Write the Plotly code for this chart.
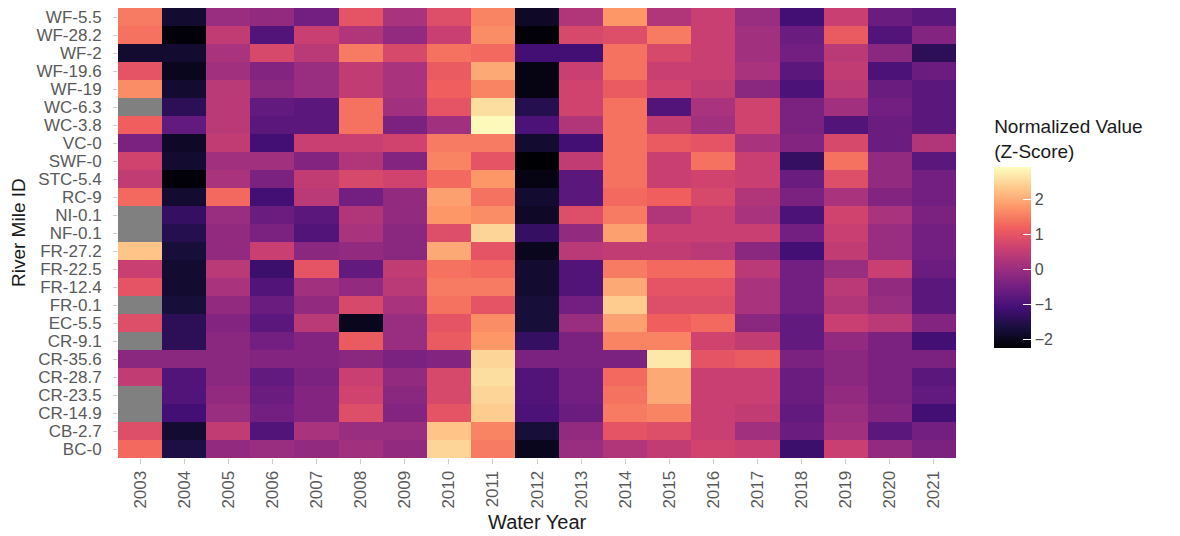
import plotly.graph_objects as go

years = [str(y) for y in range(2003, 2022)]

sites = ["WF-5.5", "WF-28.2", "WF-2", "WF-19.6", "WF-19", "WC-6.3", "WC-3.8", "VC-0",
         "SWF-0", "STC-5.4", "RC-9", "NI-0.1", "NF-0.1", "FR-27.2", "FR-22.5", "FR-12.4",
         "FR-0.1", "EC-5.5", "CR-9.1", "CR-35.6", "CR-28.7", "CR-23.5", "CR-14.9", "CB-2.7", "BC-0"]

N = None
# one list per water year, values listed top-to-bottom in the order of `sites`
y2003 = [1.5, 1.4, -1.8, 1.0, 1.7, N, 1.2, -0.4, 0.7, 0.5, 1.3, N, N, 2.3, 0.6, 1.0, N, 0.9, N, -0.2, 0.5, N, N, 0.9, 1.3]
y2004 = [-1.8, -2.2, -1.8, -2.0, -1.8, -1.4, -0.7, -1.9, -1.8, -2.2, -1.8, -1.3, -1.5, -1.7, -1.8, -1.8, -1.7, -1.4, -1.4, -0.2, -0.9, -0.9, -1.1, -1.8, -1.6]
y2005 = [0.0, 0.5, 0.2, 0.1, 0.4, 0.4, 0.4, 0.5, 0.1, 0.2, 1.3, 0.0, -0.1, -0.1, 0.4, 0.2, -0.1, -0.3, -0.2, -0.2, -0.2, -0.1, 0.0, 0.5, -0.1]
y2006 = [-0.1, -0.9, 0.8, -0.3, -0.2, -0.7, -0.8, -1.1, 0.1, -0.4, -1.1, -0.6, -0.4, 0.6, -1.2, -0.9, -0.6, -0.8, -0.5, -0.3, -0.7, -0.6, -0.5, -0.9, 0.0]
y2007 = [-0.5, 0.6, 0.4, 0.0, 0.0, -0.8, -0.8, 0.6, -0.3, 0.5, 0.4, -0.8, -0.9, -0.2, 1.0, 0.1, -0.1, 0.4, -0.3, -0.3, -0.4, -0.3, -0.3, 0.2, -0.1]
y2008 = [1.0, 0.3, 1.5, 0.5, 0.5, 1.4, 1.4, 0.6, 0.3, 0.8, -0.5, 0.3, 0.2, -0.1, -0.7, -0.1, 0.8, -2.0, 1.1, -0.2, 0.6, 0.7, 0.9, 0.0, 0.1]
y2009 = [0.2, -0.1, 0.8, 0.2, 0.2, 0.1, -0.4, 0.7, -0.3, 0.7, -0.1, -0.1, -0.2, -0.2, 0.5, 0.4, 0.2, 0.0, 0.0, -0.4, -0.1, -0.2, -0.3, 0.0, -0.1]
y2010 = [0.9, 0.6, 1.4, 1.1, 1.2, 1.0, 0.1, 1.5, 1.6, 1.3, 1.9, 1.8, 0.9, 2.0, 1.4, 1.5, 1.4, 1.0, 1.1, -0.3, 0.8, 0.8, 1.0, 2.3, 2.5]
y2011 = [1.6, 1.7, 1.3, 2.0, 1.6, 2.6, 2.9, 1.5, 1.0, 1.8, 1.4, 1.7, 2.5, 1.0, 1.3, 1.5, 1.0, 1.7, 1.8, 2.5, 2.6, 2.5, 2.4, 1.6, 1.5]
y2012 = [-1.9, -2.2, -1.1, -2.1, -2.1, -1.5, -1.0, -1.8, -2.3, -2.1, -1.8, -1.9, -1.3, -2.0, -1.8, -1.8, -1.7, -1.7, -1.3, -0.4, -0.9, -0.9, -1.0, -1.7, -2.0]
y2013 = [0.3, 0.8, -1.1, 0.6, 0.7, 0.7, 0.3, -1.1, 0.5, -0.8, -0.8, 0.9, -0.1, 0.4, -0.9, -0.9, -0.5, 0.0, -0.4, -0.4, -0.5, -0.5, -0.6, -0.1, 0.0]
y2014 = [1.8, 0.9, 1.4, 1.4, 1.1, 1.4, 1.4, 1.4, 1.4, 1.4, 1.3, 1.5, 1.9, 0.5, 1.5, 2.0, 2.4, 1.9, 1.6, -0.4, 1.3, 1.4, 1.5, 1.0, 0.3]
y2015 = [0.3, 1.5, 0.8, 0.6, 0.7, -0.9, 0.5, 1.1, 0.6, 0.6, 1.2, 0.3, 0.6, 0.5, 1.3, 1.0, 0.9, 1.2, 1.6, 2.7, 2.0, 2.0, 1.6, 0.9, 0.5]
y2016 = [0.6, 0.6, 0.6, 0.6, 0.5, 0.2, 0.1, 1.0, 1.4, 0.7, 0.8, 0.6, 0.6, 0.4, 1.3, 1.0, 0.9, 1.3, 0.7, 1.0, 0.6, 0.6, 0.6, 0.6, 0.7]
y2017 = [0.0, 0.1, 0.1, 0.2, -0.2, 0.7, 0.7, 0.2, 0.6, 0.6, 0.3, 0.2, 0.6, -0.2, 0.4, 0.2, 0.2, -0.2, 0.5, 1.1, 0.6, 0.6, 0.5, 0.1, 0.6]
y2018 = [-1.1, -0.6, -0.5, -0.8, -1.0, -0.4, -0.4, -0.3, -1.3, -0.6, -0.4, -1.0, -0.5, -1.1, -0.5, -0.5, -0.5, -0.7, -0.7, -0.4, -0.6, -0.6, -0.7, -0.6, -1.2]
y2019 = [0.6, 1.1, 0.4, 0.5, 0.4, 0.1, -0.9, 0.8, 1.4, 0.9, 0.2, 0.7, 0.6, 0.5, 0.0, 0.4, 0.3, 0.6, -0.1, -0.2, -0.2, -0.1, 0.0, 0.1, 0.6]
y2020 = [-0.6, -0.9, -0.2, -1.0, -0.6, -0.5, -0.6, -0.6, -0.1, -0.1, -0.3, 0.2, 0.0, 0.0, 0.6, -0.1, 0.0, 0.4, -0.4, -0.4, -0.4, -0.4, -0.3, -0.8, -0.1]
y2021 = [-0.8, -0.3, -1.4, -0.6, -0.8, -0.8, -0.8, 0.3, -0.8, -0.5, -0.5, -0.4, -0.5, -0.5, -0.6, -0.8, -0.8, -0.3, -1.1, -0.4, -0.8, -0.7, -1.1, -0.5, -0.4]

columns = [y2003, y2004, y2005, y2006, y2007, y2008, y2009, y2010, y2011, y2012,
           y2013, y2014, y2015, y2016, y2017, y2018, y2019, y2020, y2021]

# build z matrix: rows = sites, cols = years
z = [[columns[j][i] for j in range(len(years))] for i in range(len(sites))]

FONT = "Liberation Sans, Arial"

fig = go.Figure(go.Heatmap(
    z=z, x=years, y=sites,
    colorscale="Magma", zmin=-2.25, zmax=2.95,
    colorbar=dict(
        title=dict(text="Normalized Value<br>(Z-Score)", side="top",
                   font=dict(size=19, color="#1a1a1a", family=FONT)),
        thickness=37, lenmode="pixels", len=232,
        x=1.0455, xanchor="left", xpad=0,
        y=0.2444, yanchor="bottom", ypad=0,
        tickvals=[-2, -1, 0, 1, 2], ticks="inside", ticklen=8, tickcolor="white",
        tickfont=dict(size=16, color="#4d4d4d", family=FONT), outlinewidth=0,
    ),
    hoverongaps=False,
))

# page has an 8px body margin, so the figure is sized to fit inside the window
fig.update_layout(
    width=1172, height=528,
    margin=dict(l=110, r=224, t=0, b=78),
    paper_bgcolor="white", plot_bgcolor="#808080",
    font=dict(family=FONT, color="#4d4d4d"),
    xaxis=dict(automargin=False, tickmode="array", tickvals=years,
               tickangle=-90, tickfont=dict(size=17, color="#5a5a5a"),
               showgrid=False, zeroline=False, ticks="outside", ticklen=5, tickcolor="#cccccc"),
    yaxis=dict(automargin=False, autorange="reversed", tickmode="array", tickvals=sites,
               tickfont=dict(size=17, color="#5a5a5a"),
               showgrid=False, zeroline=False, ticks="outside", ticklen=4, tickcolor="#cccccc",
               ticklabelstandoff=8),
    annotations=[
        dict(text="Water Year", xref="paper", yref="paper", x=0.5, y=0.0, yshift=-64,
             xanchor="center", yanchor="middle", showarrow=False,
             font=dict(size=20, color="#1a1a1a", family=FONT)),
        dict(text="River Mile ID", xref="paper", yref="paper", x=0, xshift=-100, y=0.5,
             xanchor="center", yanchor="middle", textangle=-90, showarrow=False,
             font=dict(size=19, color="#1a1a1a", family=FONT)),
    ],
)

fig.write_html("out.html")
